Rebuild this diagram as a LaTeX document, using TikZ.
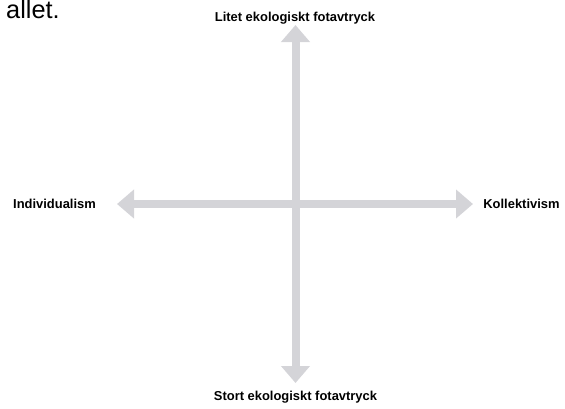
\documentclass[tikz,border=0pt]{standalone}
\usepackage{fontspec}
\setmainfont{Liberation Sans}
\usetikzlibrary{arrows.meta}
\definecolor{axisgray}{RGB}{212,212,216}
\begin{document}
\begin{tikzpicture}[x=0.75pt,y=-0.75pt,
    axel/.style={draw=axisgray, line width=6pt,
      {Triangle[width=21pt,length=12.75pt]}-{Triangle[width=21pt,length=12.75pt]}},
    etikett/.style={inner sep=0pt, font=\fontsize{9.7}{11}\selectfont\bfseries}]
        \useasboundingbox (0,0) rectangle (565,408);
        % Rubrik (avklippt)
        \node[anchor=base east, inner sep=0pt, font=\fontsize{19}{22}\selectfont] (rubrik) at (60,18) {allet.};

        % Axlarnas ändpunkter
        \coordinate (upp) at (295.5,25);
        \coordinate (ner) at (295.5,383);
        \coordinate (vanster) at (117,204);
        \coordinate (hoger) at (473,204);

        % Axlar
        \draw[axel] (ner) -- (upp);
        \draw[axel] (vanster) -- (hoger);

        % Etiketter
        \node[etikett, anchor=base] (litet) at (295,21) {Litet ekologiskt fotavtryck};
        \node[etikett, anchor=base] (stort) at (295.5,400) {Stort ekologiskt fotavtryck};
        \node[etikett, anchor=base] (indiv) at (54.5,208) {Individualism};
        \node[etikett, anchor=base] (kollek) at (521.5,208) {Kollektivism};
    \end{tikzpicture}
\end{document}
